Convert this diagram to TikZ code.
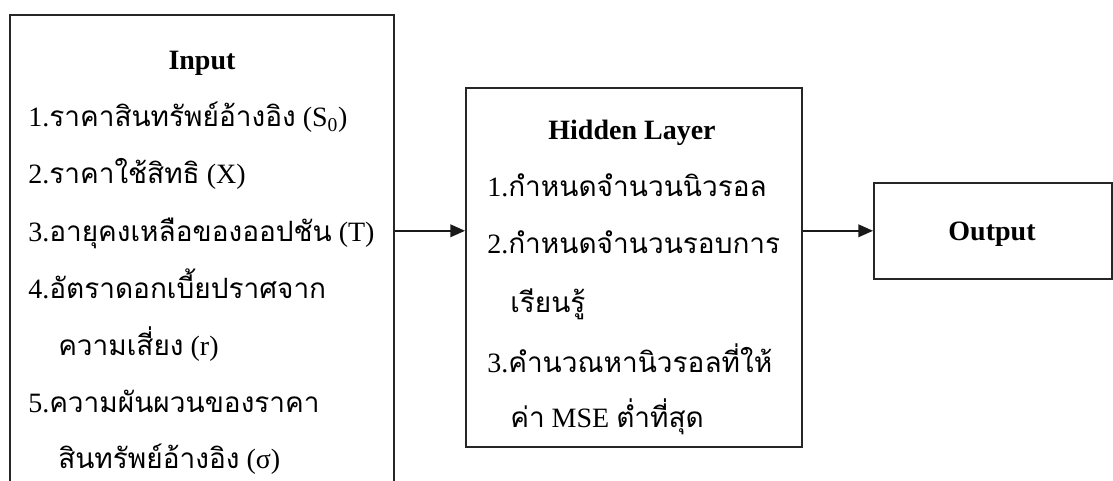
\documentclass[tikz,border=0pt]{standalone}
\usepackage{fontspec}
\setmainfont{Liberation Serif}
\newfontfamily\thai[Script=Thai]{Loma}
\usetikzlibrary{arrows.meta}
\tikzset{
  box/.style={draw=black!85, line width=1.4pt, anchor=north west, inner sep=0pt},
  arr/.style={draw=black!90, line width=1.2pt, -{Triangle[length=11pt,width=9.5pt]}},
  txt/.style={anchor=base west, inner sep=0pt, font=\fontsize{21}{24}\selectfont},
  ttl/.style={anchor=base, inner sep=0pt, font=\fontsize{21}{24}\selectfont\bfseries},
}
\newcommand{\tht}[1]{{\thai\fontsize{21}{24}\selectfont #1}}
\begin{document}
\begin{tikzpicture}[x=0.75pt,y=-0.75pt]
\useasboundingbox (0,0) rectangle (1113,481);
\clip (0,0) rectangle (1113,481);
% boxes
\node[box, minimum width=288pt, minimum height=390pt] (input) at (9,14) {};
\node[box, minimum width=252pt, minimum height=269.25pt] (hidden) at (465,87) {};
\node[box, minimum width=178.5pt, minimum height=72pt, line width=1.2pt] (output) at (873,182) {};
% input texts
\node[ttl] (tin) at (202,70) {Input};
\node[txt] (i1) at (28,127) {1.\tht{ราคาสินทรัพย์อ้างอิง} (S\textsubscript{0})};
\node[txt] (i2) at (28,184) {2.\tht{ราคาใช้สิทธิ} (X)};
\node[txt] (i3) at (28,241) {3.\tht{อายุคงเหลือของออปชัน} (T)};
\node[txt] (i4) at (28,298) {4.\tht{อัตราดอกเบี้ยปราศจาก}};
\node[txt] (i4b) at (58,355) {\tht{ความเสี่ยง} (r)};
\node[txt] (i5) at (28,412) {5.\tht{ความผันผวนของราคา}};
\node[txt] (i5b) at (58,468) {\tht{สินทรัพย์อ้างอิง} (σ)};
% hidden texts
\node[ttl] (thl) at (632,140) {Hidden Layer};
\node[txt] (h1) at (487,196) {1.\tht{กำหนดจำนวนนิวรอล}};
\node[txt] (h2) at (487,253) {2.\tht{กำหนดจำนวนรอบการ}};
\node[txt] (h2b) at (510,312) {\tht{เรียนรู้}};
\node[txt] (h3) at (487,372) {3.\tht{คำนวณหานิวรอลที่ให้}};
\node[txt] (h3b) at (510,427) {\tht{ค่า} MSE \tht{ต่ำที่สุด}};
% output text
\node[ttl] (tout) at (992,240) {Output};
% connectors
\draw[arr] (input.east |- output.west) -- (hidden.west |- output.west);
\draw[arr] (hidden.east |- output.west) -- (output.west);
\end{tikzpicture}
\end{document}
